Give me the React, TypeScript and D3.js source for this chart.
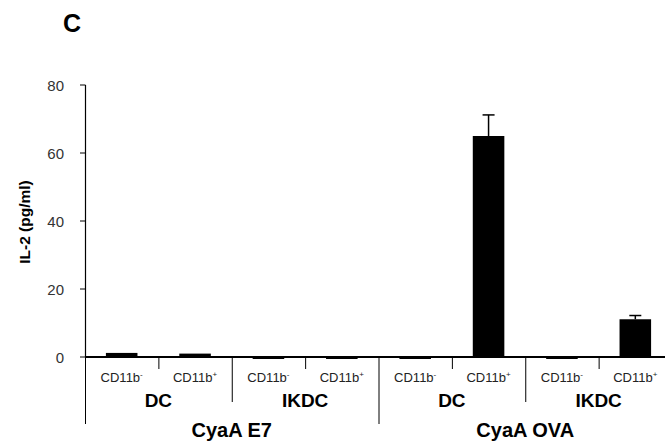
import React from 'react';
import * as d3 from 'd3';

// values (IL-2, pg/ml)
const cellLabels = ['CD11b', 'CD11b', 'CD11b', 'CD11b', 'CD11b', 'CD11b', 'CD11b', 'CD11b'];
const cellSigns = ['-', '+', '-', '+', '-', '+', '-', '+'];
const cellTypes = ['DC', 'IKDC', 'DC', 'IKDC'];
const antigens = ['CyaA E7', 'CyaA OVA'];
const values = [1.2, 1.0, -0.4, -0.4, -0.4, 65, -0.4, 11.1];
const errors = [0, 0, 0, 0, 0, 6.2, 0, 1.1];
const yTicks = [0, 20, 40, 60, 80];

const W = 665;
const H = 446;
const font = '"Liberation Sans", Arial, sans-serif';

export default function App() {
  const idx = values.map((_, i) => i);
  const x = d3.scaleBand<number>().domain(idx).range([85, 672]).paddingInner(0).paddingOuter(0);
  const y = d3.scaleLinear().domain([0, 80]).range([357, 85]);
  const bw = x.bandwidth() * 0.43;
  const y0 = y(0);

  // separator lengths: short between cells, medium between cell types, long between antigens
  const sepLen = (i: number) => (i % 4 === 0 ? 67 : i % 2 === 0 ? 45 : 12);

  return (
    <svg width={W} height={H} style={{ position: 'absolute', left: 0, top: 0, background: '#fff' }} fontFamily={font}>
      <text x={72} y={32} fontSize={25} fontWeight="bold" textAnchor="middle">C</text>

      {/* y axis */}
      <line x1={85.5} x2={85.5} y1={y(80)} y2={y0} stroke="#000" strokeWidth={1.2} />
      {yTicks.map(t => (
        <g key={t}>
          <line x1={80} x2={85.5} y1={y(t)} y2={y(t)} stroke="#000" strokeWidth={1} />
          <text x={64} y={y(t) + 6} fontSize={15} textAnchor="end" fill="#333">{t}</text>
        </g>
      ))}
      <text transform={`translate(30,${(y(80) + y0) / 2 + 1}) rotate(-90)`} fontSize={15.5} fontWeight="bold" textAnchor="middle">IL-2 (pg/ml)</text>

      {/* bars */}
      {values.map((v, i) => {
        const cx = (x(i) as number) + x.bandwidth() / 2;
        const top = y(Math.max(0, v));
        const h = Math.max(Math.abs(y(v) - y0), 2);
        return (
          <g key={i}>
            {errors[i] > 0 && (
              <g stroke="#000" strokeWidth={1.5}>
                <line x1={cx} x2={cx} y1={top} y2={y(v + errors[i])} />
                <line x1={cx - 6} x2={cx + 6} y1={y(v + errors[i])} y2={y(v + errors[i])} />
              </g>
            )}
            <rect x={cx - bw / 2} y={top} width={bw} height={h} fill="#000" />
          </g>
        );
      })}

      {/* x axis */}
      <line x1={85} x2={W} y1={y0} y2={y0} stroke="#000" strokeWidth={2} />
      {idx.map(i => (
        <line key={'s' + i} x1={(x(i) as number) + 0.5} x2={(x(i) as number) + 0.5} y1={y0} y2={y0 + sepLen(i)} stroke="#000" strokeWidth={1} />
      ))}
      {idx.map(i => (
        <text key={'c' + i} x={(x(i) as number) + x.bandwidth() / 2} y={382} fontSize={13} textAnchor="middle" fill="#222">
          {cellLabels[i]}
          <tspan dy={-5} fontSize={8}>{cellSigns[i]}</tspan>
        </text>
      ))}
      {cellTypes.map((c, j) => {
        const cx = (x(j * 2) as number) + x.bandwidth();
        return (
          <text key={'t' + j} x={cx} y={407} fontSize={19} fontWeight="bold" textAnchor="middle">{c}</text>
        );
      })}
      {antigens.map((a, k) => {
        const cx = (x(k * 4) as number) + x.bandwidth() * 2;
        return (
          <text key={'a' + k} x={cx} y={437} fontSize={20} fontWeight="bold" textAnchor="middle">{a}</text>
        );
      })}
    </svg>
  );
}
